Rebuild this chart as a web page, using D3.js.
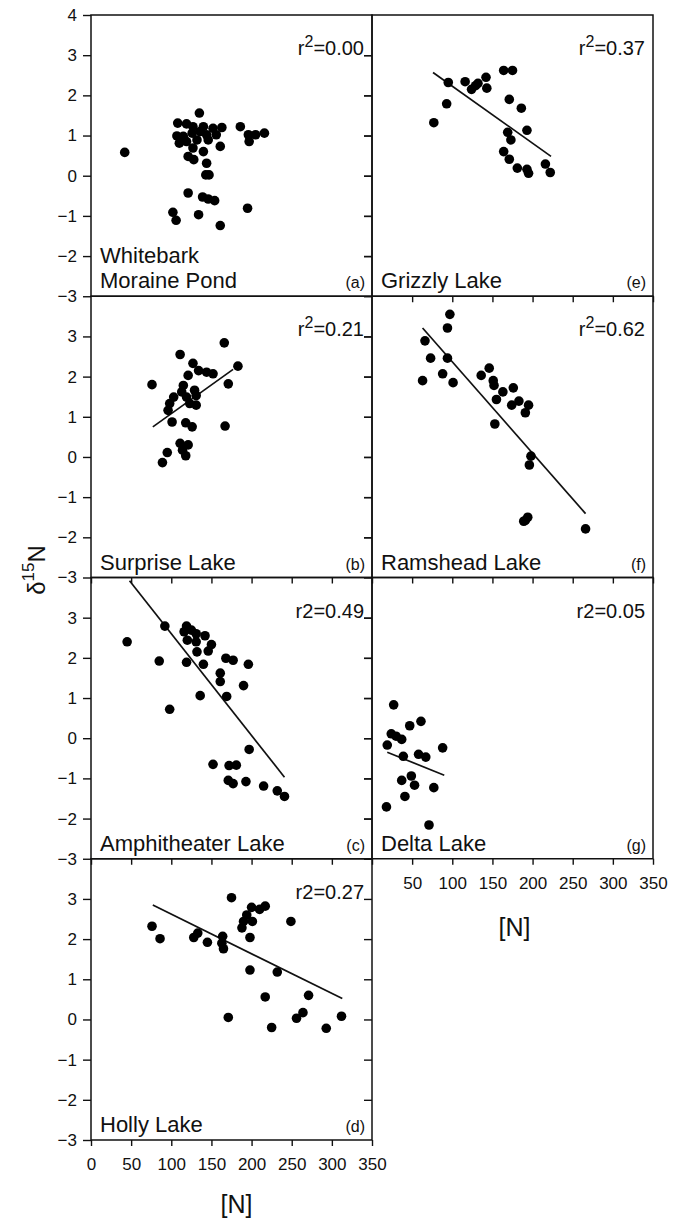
<!DOCTYPE html>
<html>
<head>
<meta charset="utf-8">
<script src="https://cdn.jsdelivr.net/npm/d3@7"></script>
<style>
  body { margin: 0; background: #fff; }
  text { font-family: "Liberation Sans", Arial, sans-serif; fill: #111; }
</style>
</head>
<body>
<div id="chart"></div>
<script>
"use strict";

// tick values shared by every panel
const xTicks = [0, 50, 100, 150, 200, 250, 300, 350];
const yTicks = [-3, -2, -1, 0, 1, 2, 3];

// [N], d15N
const whitebark = [[42,0.58],[135,1.56],[108,1.31],[119,1.29],[127,1.22],[140,1.22],[152,1.18],[163,1.20],
  [107,0.99],[115,0.98],[126,1.06],[136,1.10],[144,1.02],[156,1.02],[110,0.81],[119,0.85],[132,0.89],[146,0.89],
  [161,0.73],[127,0.69],[140,0.60],[121,0.48],[128,0.40],[144,0.31],[143,0.02],[147,0.02],[186,1.22],[196,1.02],
  [205,1.02],[216,1.06],[197,0.85],[121,-0.43],[139,-0.53],[146,-0.58],[154,-0.62],[102,-0.91],[106,-1.11],
  [134,-0.97],[161,-1.24],[195,-0.81]];
const surprise = [[76,1.80],[111,2.55],[127,2.33],[166,2.84],[183,2.26],[171,1.82],[167,0.77],[121,2.03],
  [134,2.15],[144,2.11],[152,2.07],[115,1.78],[129,1.66],[113,1.62],[103,1.49],[98,1.33],[96,1.16],[119,1.49],
  [131,1.53],[123,1.33],[131,1.29],[101,0.87],[118,0.85],[126,0.75],[111,0.34],[121,0.30],[114,0.17],[95,0.11],
  [118,0.03],[89,-0.14]];
const amphitheater = [[45,2.40],[92,2.79],[85,1.92],[98,0.72],[119,2.79],[116,2.65],[125,2.69],[120,2.44],
  [131,2.60],[142,2.55],[131,2.40],[132,2.15],[150,2.33],[146,2.17],[119,1.89],[140,1.84],[168,1.99],[177,1.94],
  [196,1.84],[161,1.62],[161,1.41],[190,1.31],[136,1.06],[169,1.04],[197,-0.28],[152,-0.65],[172,-0.68],
  [181,-0.67],[171,-1.05],[177,-1.13],[193,-1.08],[215,-1.19],[232,-1.31],[241,-1.45]];
const holly = [[76,2.32],[86,2.01],[128,2.04],[133,2.15],[145,1.92],[164,2.07],[163,1.90],[165,1.76],[175,3.03],
  [171,0.05],[188,2.28],[190,2.44],[194,2.60],[200,2.79],[201,2.44],[210,2.74],[217,2.82],[198,2.04],[198,1.23],
  [232,1.18],[217,0.56],[225,-0.20],[249,2.44],[256,0.03],[264,0.17],[271,0.60],[293,-0.22],[312,0.08]];
const grizzly = [[77,1.32],[93,1.79],[95,2.32],[116,2.34],[124,2.15],[129,2.24],[132,2.30],[142,2.45],[143,2.18],
  [164,2.62],[175,2.62],[171,1.90],[186,1.68],[169,1.08],[173,0.89],[193,1.13],[164,0.60],[171,0.41],[181,0.19],
  [193,0.16],[195,0.06],[216,0.29],[222,0.08]];
const ramshead = [[97,3.55],[94,3.21],[66,2.89],[73,2.46],[94,2.46],[63,1.90],[88,2.07],[101,1.85],[146,2.21],
  [136,2.03],[151,1.90],[152,1.78],[163,1.62],[176,1.72],[155,1.43],[174,1.29],[183,1.39],[195,1.29],[191,1.10],
  [153,0.82],[198,0.02],[196,-0.20],[189,-1.60],[194,-1.50],[191,-1.58],[266,-1.79]];
const delta = [[27,0.83],[24,0.11],[30,0.05],[37,-0.03],[47,0.31],[61,0.42],[19,-0.17],[39,-0.45],[58,-0.40],
  [67,-0.47],[88,-0.24],[37,-1.05],[49,-0.94],[53,-1.17],[41,-1.45],[77,-1.23],[18,-1.71],[71,-2.16]];

// regression line end points: [N1, d1, N2, d2]
const fitSurprise = [77, 0.75, 177, 2.18];
const fitAmphitheater = [48, 3.92, 241, -0.97];
const fitHolly = [77, 2.85, 313, 0.52];
const fitGrizzly = [76, 2.57, 223, 0.48];
const fitRamshead = [63, 3.21, 266, -1.41];
const fitDelta = [19, -0.35, 90, -0.92];

const panelNames = [["Whitebark", "Moraine Pond"], ["Surprise Lake"], ["Amphitheater Lake"], ["Holly Lake"],
  ["Grizzly Lake"], ["Ramshead Lake"], ["Delta Lake"]];
const panelTags = ["(a)", "(b)", "(c)", "(d)", "(e)", "(f)", "(g)"];
const r2Values = ["0.00", "0.21", "0.49", "0.27", "0.37", "0.62", "0.05"];
const r2Super = [true, true, false, false, true, true, false];

const W = 673, H = 1222;
const colX = [91, 372];
const panelW = 281;
const top0 = 15, panelH = 281.25;

const svg = d3.select("#chart").append("svg")
  .attr("width", W)
  .attr("height", H);

const panels = [
  { pts: whitebark,    fit: null,            col: 0, row: 0 },
  { pts: surprise,     fit: fitSurprise,     col: 0, row: 1 },
  { pts: amphitheater, fit: fitAmphitheater, col: 0, row: 2 },
  { pts: holly,        fit: fitHolly,        col: 0, row: 3 },
  { pts: grizzly,      fit: fitGrizzly,      col: 1, row: 0 },
  { pts: ramshead,     fit: fitRamshead,     col: 1, row: 1 },
  { pts: delta,        fit: fitDelta,        col: 1, row: 2 }
];

panels.forEach((p, i) => {
  let x0 = colX[p.col];
  let y0 = top0 + p.row * panelH;
  let x = d3.scaleLinear().domain([0, 350]).range([x0, x0 + panelW]);
  let y = d3.scaleLinear().domain([-3, 4]).range([y0 + panelH, y0]);
  let g = svg.append("g");

  // frame
  g.append("rect")
    .attr("x", x0).attr("y", y0)
    .attr("width", panelW).attr("height", panelH)
    .attr("fill", "none").attr("stroke", "#111").attr("stroke-width", 1.5);

  // left axis: labels only in the left column
  let yAxis = d3.axisLeft(y)
    .tickValues(p.col === 0 && p.row === 0 ? yTicks.concat([4]) : yTicks)
    .tickSizeInner(8).tickSizeOuter(0).tickPadding(6)
    .tickFormat(p.col === 0 ? d3.format("d") : "");
  let ya = g.append("g").attr("transform", `translate(${x0},0)`).call(yAxis);
  ya.select(".domain").remove();

  // inner ticks on the right edge of the left column
  if (p.col === 0) {
    let yr = g.append("g").attr("transform", `translate(${x0 + panelW},0)`)
      .call(d3.axisLeft(y).tickValues(yTicks.slice(1)).tickSizeInner(8).tickSizeOuter(0).tickFormat(""));
    yr.select(".domain").remove();
  }

  // bottom ticks (none under panel a)
  if (!(p.col === 0 && p.row === 0)) {
    let showLabels = (p.col === 0 && p.row === 3) || (p.col === 1 && p.row === 2);
    let ticks = p.col === 1 ? xTicks.slice(1) : xTicks;
    let xAxis = d3.axisBottom(x).tickValues(ticks)
      .tickSizeInner(6).tickSizeOuter(0).tickPadding(12)
      .tickFormat(showLabels ? d3.format("d") : "");
    let xa = g.append("g").attr("transform", `translate(0,${y0 + panelH})`).call(xAxis);
    xa.select(".domain").remove();
  }

  g.selectAll(".tick line").attr("stroke", "#111").attr("stroke-width", 1.4);
  g.selectAll(".tick text")
    .attr("font-size", 17)
    .attr("fill", "#111")
    .style("font-family", "'Liberation Sans', Arial, sans-serif");

  // regression line
  if (p.fit) {
    g.append("line")
      .attr("x1", x(p.fit[0])).attr("y1", y(p.fit[1]))
      .attr("x2", x(p.fit[2])).attr("y2", y(p.fit[3]))
      .attr("stroke", "#111").attr("stroke-width", 1.7);
  }

  // points
  g.selectAll("circle.pt").data(p.pts).join("circle")
    .attr("class", "pt")
    .attr("cx", d => x(d[0]))
    .attr("cy", d => y(d[1]))
    .attr("r", 4.8)
    .attr("fill", "#000");

  // r2 label
  let rt = g.append("text")
    .attr("x", x0 + panelW - 8).attr("y", y0 + 40)
    .attr("text-anchor", "end").attr("font-size", 20);
  if (r2Super[i]) {
    rt.append("tspan").text("r");
    rt.append("tspan").attr("dy", -8).attr("font-size", 16).text("2");
    rt.append("tspan").attr("dy", 8).text("=" + r2Values[i]);
  } else {
    rt.text("r2=" + r2Values[i]);
  }

  // lake name, bottom left
  let names = panelNames[i];
  names.forEach((n, k) => {
    g.append("text")
      .attr("x", x0 + 9)
      .attr("y", y0 + panelH - 8 - (names.length - 1 - k) * 25)
      .attr("font-size", 22)
      .text(n);
  });

  // panel tag, bottom right
  g.append("text")
    .attr("x", x0 + panelW - 7).attr("y", y0 + panelH - 8)
    .attr("text-anchor", "end").attr("font-size", 16)
    .text(panelTags[i]);
});

// axis titles
svg.append("text")
  .attr("x", colX[0] + panelW / 2 + 5).attr("y", 1213)
  .attr("text-anchor", "middle").attr("font-size", 25)
  .text("[N]");
svg.append("text")
  .attr("x", colX[1] + panelW / 2 + 2).attr("y", 936)
  .attr("text-anchor", "middle").attr("font-size", 25)
  .text("[N]");

let yt = svg.append("text")
  .attr("transform", "translate(45,570) rotate(-90)")
  .attr("text-anchor", "middle").attr("font-size", 24);
yt.append("tspan").text("δ");
yt.append("tspan").attr("dy", -11).attr("font-size", 17).text("15");
yt.append("tspan").attr("dy", 11).text("N");
</script>
</body>
</html>
